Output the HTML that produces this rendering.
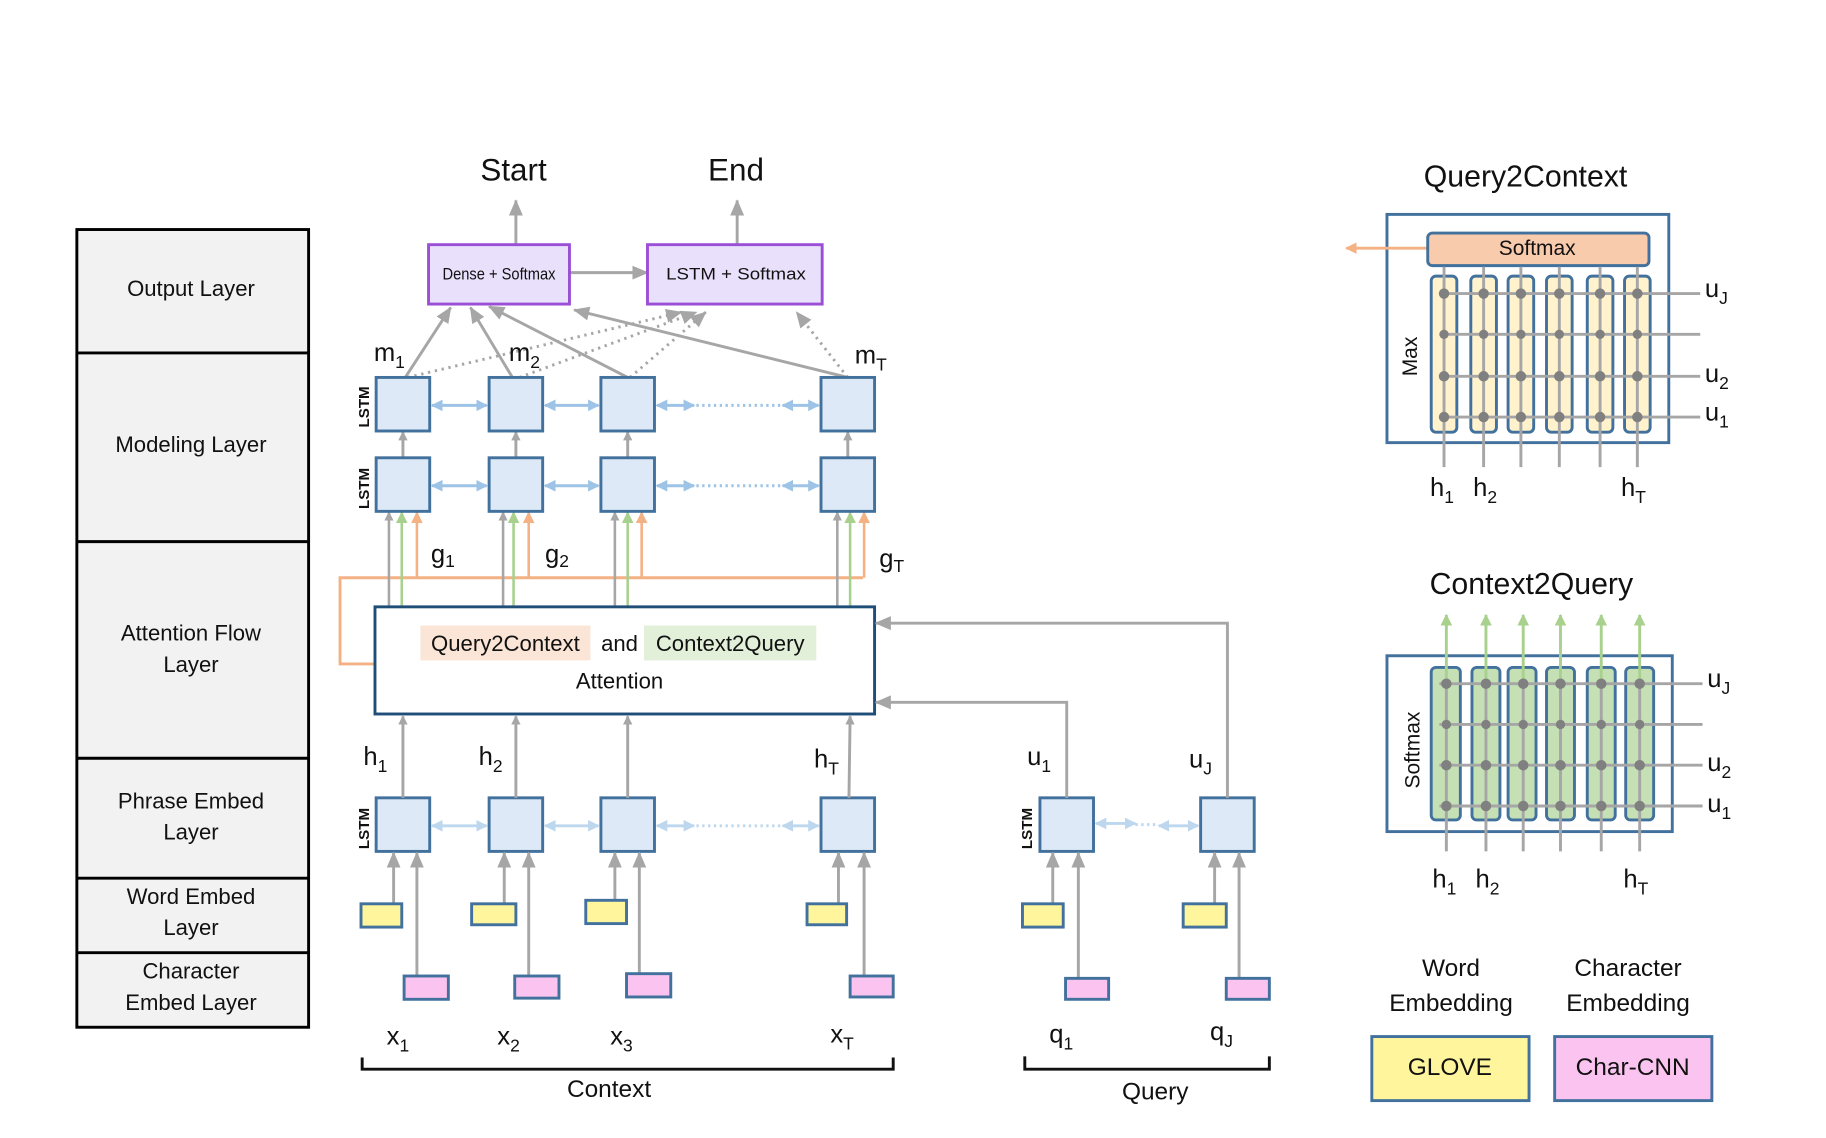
<!DOCTYPE html>
<html><head><meta charset="utf-8"><style>
html,body{margin:0;padding:0;background:#fff}
svg{display:block}
text{font-family:"Liberation Sans",sans-serif;fill:#111}
</style></head><body>
<svg width="1826" height="1138" viewBox="0 0 1568 977" xmlns="http://www.w3.org/2000/svg">
<defs>
<marker id="ag" markerWidth="8" markerHeight="8" refX="7" refY="4" orient="auto" markerUnits="userSpaceOnUse"><path d="M0,0 L8,4 L0,8 z" fill="#a6a6a6"/></marker>
<marker id="agL" markerWidth="14" markerHeight="12" refX="13" refY="6" orient="auto" markerUnits="userSpaceOnUse"><path d="M0,0 L14,6 L0,12 z" fill="#a6a6a6"/></marker>
<marker id="agr" markerWidth="10" markerHeight="10" refX="9" refY="5" orient="auto" markerUnits="userSpaceOnUse"><path d="M0,0 L10,5 L0,10 z" fill="#a9d18e"/></marker>
<marker id="aor" markerWidth="10" markerHeight="10" refX="9" refY="5" orient="auto" markerUnits="userSpaceOnUse"><path d="M0,0 L10,5 L0,10 z" fill="#f4b183"/></marker>
<marker id="ab" markerWidth="10" markerHeight="10" refX="9" refY="5" orient="auto-start-reverse" markerUnits="userSpaceOnUse"><path d="M0,0 L10,5 L0,10 z" fill="#9dc3e6"/></marker>
<marker id="ab2" markerWidth="10" markerHeight="10" refX="9" refY="5" orient="auto-start-reverse" markerUnits="userSpaceOnUse"><path d="M0,0 L10,5 L0,10 z" fill="#bdd7ee"/></marker>
</defs>

<g stroke="#000" stroke-width="2.5" fill="#f2f2f2">
<rect x="66" y="197" width="199" height="685"/>
<line x1="66" y1="303" x2="265" y2="303"/><line x1="66" y1="465" x2="265" y2="465"/>
<line x1="66" y1="651" x2="265" y2="651"/><line x1="66" y1="754" x2="265" y2="754"/>
<line x1="66" y1="818" x2="265" y2="818"/>
</g>
<g font-size="19" text-anchor="middle">
<text x="164" y="254">Output  Layer</text>
<text x="164" y="388">Modeling Layer</text>
<text x="164" y="550">Attention  Flow</text><text x="164" y="577">Layer</text>
<text x="164" y="694">Phrase Embed</text><text x="164" y="721">Layer</text>
<text x="164" y="776">Word Embed</text><text x="164" y="803">Layer</text>
<text x="164" y="840">Character</text><text x="164" y="867">Embed Layer</text>
</g>

<text x="441" y="155" font-size="27" text-anchor="middle">Start</text>
<text x="632" y="155" font-size="27" text-anchor="middle">End</text>
<g stroke="#a6a6a6" stroke-width="2.5">
<line x1="443" y1="210" x2="443" y2="172" marker-end="url(#agL)"/>
<line x1="633" y1="210" x2="633" y2="172" marker-end="url(#agL)"/>
<line x1="489" y1="234" x2="556" y2="234" marker-end="url(#agL)"/>
</g>
<g stroke="#9b4fd6" stroke-width="2.5" fill="#e9e1fb">
<rect x="368" y="210" width="121" height="51"/><rect x="556" y="210" width="150" height="51"/>
</g>
<text x="380" y="240" font-size="14" textLength="97" lengthAdjust="spacingAndGlyphs">Dense  + Softmax</text>
<text x="572" y="240" font-size="14" textLength="120" lengthAdjust="spacingAndGlyphs">LSTM + Softmax</text>

<g stroke="#a6a6a6" stroke-width="2.5" fill="none">
<line x1="348" y1="324" x2="387" y2="264" marker-end="url(#agL)"/>
<line x1="440" y1="324" x2="404" y2="264" marker-end="url(#agL)"/>
<line x1="539" y1="324" x2="420" y2="263" marker-end="url(#agL)"/>
<line x1="728" y1="324" x2="493" y2="266" marker-end="url(#agL)"/>
</g>
<g stroke="#a6a6a6" stroke-width="2.5" stroke-dasharray="2,4" fill="none">
<line x1="350" y1="324" x2="585" y2="268" marker-end="url(#agL)"/>
<line x1="446" y1="324" x2="598" y2="268" marker-end="url(#agL)"/>
<line x1="541" y1="324" x2="606" y2="268" marker-end="url(#agL)"/>
<line x1="728" y1="324" x2="684" y2="268" marker-end="url(#agL)"/>
</g>
<g font-size="22">
<text x="321" y="310">m<tspan font-size="15" dy="6">1</tspan></text>
<text x="437" y="310">m<tspan font-size="15" dy="6">2</tspan></text>
<text x="734" y="312">m<tspan font-size="15" dy="6">T</tspan></text>
<text x="370" y="483">g<tspan font-size="15" dy="4">1</tspan></text>
<text x="468" y="483">g<tspan font-size="15" dy="4">2</tspan></text>
<text x="755" y="487">g<tspan font-size="15" dy="4">T</tspan></text>
<text x="312" y="657">h<tspan font-size="15" dy="6">1</tspan></text>
<text x="411" y="657">h<tspan font-size="15" dy="6">2</tspan></text>
<text x="699" y="659">h<tspan font-size="15" dy="6">T</tspan></text>
<text x="882" y="657">u<tspan font-size="15" dy="6">1</tspan></text>
<text x="1021" y="659">u<tspan font-size="15" dy="6">J</tspan></text>
<text x="332" y="897">x<tspan font-size="15" dy="6">1</tspan></text>
<text x="427" y="897">x<tspan font-size="15" dy="6">2</tspan></text>
<text x="524" y="897">x<tspan font-size="15" dy="6">3</tspan></text>
<text x="713" y="895">x<tspan font-size="15" dy="6">T</tspan></text>
<text x="901" y="895">q<tspan font-size="15" dy="6">1</tspan></text>
<text x="1039" y="893">q<tspan font-size="15" dy="6">J</tspan></text>
</g>

<g stroke="#9dc3e6" stroke-width="2.5">
<line x1="371" y1="348" x2="418" y2="348" marker-start="url(#ab)" marker-end="url(#ab)"/>
<line x1="468" y1="348" x2="514" y2="348" marker-start="url(#ab)" marker-end="url(#ab)"/>
<line x1="564" y1="348" x2="596" y2="348" marker-start="url(#ab)" marker-end="url(#ab)"/>
<line x1="672" y1="348" x2="703" y2="348" marker-start="url(#ab)" marker-end="url(#ab)"/>
<line x1="598" y1="348" x2="670" y2="348" stroke-dasharray="2,3"/>
<line x1="371" y1="417" x2="418" y2="417" marker-start="url(#ab)" marker-end="url(#ab)"/>
<line x1="468" y1="417" x2="514" y2="417" marker-start="url(#ab)" marker-end="url(#ab)"/>
<line x1="564" y1="417" x2="596" y2="417" marker-start="url(#ab)" marker-end="url(#ab)"/>
<line x1="672" y1="417" x2="703" y2="417" marker-start="url(#ab)" marker-end="url(#ab)"/>
<line x1="598" y1="417" x2="670" y2="417" stroke-dasharray="2,3"/>
</g>
<g stroke="#bdd7ee" stroke-width="2.5">
<line x1="371" y1="709" x2="418" y2="709" marker-start="url(#ab2)" marker-end="url(#ab2)"/>
<line x1="468" y1="709" x2="514" y2="709" marker-start="url(#ab2)" marker-end="url(#ab2)"/>
<line x1="564" y1="709" x2="596" y2="709" marker-start="url(#ab2)" marker-end="url(#ab2)"/>
<line x1="672" y1="709" x2="703" y2="709" marker-start="url(#ab2)" marker-end="url(#ab2)"/>
<line x1="598" y1="709" x2="670" y2="709" stroke-dasharray="2,3"/>
<line x1="941" y1="707" x2="975" y2="707" marker-start="url(#ab2)" marker-end="url(#ab2)"/>
<line x1="995" y1="709" x2="1029" y2="709" marker-start="url(#ab2)" marker-end="url(#ab2)"/>
<line x1="975" y1="708" x2="995" y2="708" stroke-dasharray="2,3"/>
</g>

<g stroke="#a6a6a6" stroke-width="2.5">
<line x1="346" y1="393" x2="346" y2="371" marker-end="url(#ag)"/>
<line x1="443" y1="393" x2="443" y2="371" marker-end="url(#ag)"/>
<line x1="539" y1="393" x2="539" y2="371" marker-end="url(#ag)"/>
<line x1="728" y1="393" x2="728" y2="371" marker-end="url(#ag)"/>
</g>

<polyline points="741,496 292,496 292,570 322,570" fill="none" stroke="#f4b183" stroke-width="2.5"/>
<g stroke-width="2.2">
<g stroke="#a6a6a6">
<line x1="334" y1="521" x2="334" y2="440" marker-end="url(#ag)"/><line x1="432" y1="521" x2="432" y2="440" marker-end="url(#ag)"/>
<line x1="528" y1="521" x2="528" y2="440" marker-end="url(#ag)"/><line x1="719" y1="521" x2="719" y2="440" marker-end="url(#ag)"/>
</g>
<g stroke="#a9d18e">
<line x1="345" y1="521" x2="345" y2="440" marker-end="url(#agr)"/><line x1="441" y1="521" x2="441" y2="440" marker-end="url(#agr)"/>
<line x1="539" y1="521" x2="539" y2="440" marker-end="url(#agr)"/><line x1="730" y1="521" x2="730" y2="440" marker-end="url(#agr)"/>
</g>
<g stroke="#f4b183">
<line x1="358" y1="496" x2="358" y2="440" marker-end="url(#aor)"/><line x1="454" y1="496" x2="454" y2="440" marker-end="url(#aor)"/>
<line x1="551" y1="496" x2="551" y2="440" marker-end="url(#aor)"/><line x1="742" y1="496" x2="742" y2="440" marker-end="url(#aor)"/>
</g>
</g>

<g fill="#dde9f6" stroke="#41719c" stroke-width="2.5">
<rect x="323" y="324" width="46" height="46"/><rect x="420" y="324" width="46" height="46"/><rect x="516" y="324" width="46" height="46"/><rect x="705" y="324" width="46" height="46"/>
<rect x="323" y="393" width="46" height="46"/><rect x="420" y="393" width="46" height="46"/><rect x="516" y="393" width="46" height="46"/><rect x="705" y="393" width="46" height="46"/>
<rect x="323" y="685" width="46" height="46"/><rect x="420" y="685" width="46" height="46"/><rect x="516" y="685" width="46" height="46"/><rect x="705" y="685" width="46" height="46"/>
<rect x="893" y="685" width="46" height="46"/><rect x="1031" y="685" width="46" height="46"/>
</g>
<g font-size="13" font-weight="bold">
<text transform="translate(317,367) rotate(-90)" fill="#2e75b6">LSTM</text>
<text transform="translate(317,437) rotate(-90)" fill="#2e75b6">LSTM</text>
<text transform="translate(317,729) rotate(-90)" fill="#2e75b6">LSTM</text>
<text transform="translate(886,729) rotate(-90)" fill="#2e75b6">LSTM</text>
</g>

<rect x="322" y="521" width="429" height="92" fill="#fff" stroke="#1f4e79" stroke-width="2.5"/>
<rect x="361" y="537" width="146" height="30" fill="#fbe5d6"/>
<rect x="553" y="537" width="148" height="30" fill="#e2f0d9"/>
<g font-size="19" text-anchor="middle">
<text x="434" y="559">Query2Context</text><text x="532" y="559">and</text><text x="627" y="559">Context2Query</text>
<text x="532" y="591">Attention</text>
</g>
<g stroke="#a6a6a6" stroke-width="2.5" fill="none">
<polyline points="916,685 916,603 752,603" marker-end="url(#agL)"/>
<polyline points="1054,685 1054,535 752,535" marker-end="url(#agL)"/>
<line x1="346" y1="685" x2="346" y2="615" marker-end="url(#ag)"/>
<line x1="443" y1="685" x2="443" y2="615" marker-end="url(#ag)"/>
<line x1="539" y1="685" x2="539" y2="615" marker-end="url(#ag)"/>
<line x1="729" y1="685" x2="730" y2="615" marker-end="url(#ag)"/>
<line x1="338" y1="776" x2="338" y2="732" marker-end="url(#agL)"/><line x1="358" y1="838" x2="358" y2="732" marker-end="url(#agL)"/>
<line x1="433" y1="776" x2="433" y2="732" marker-end="url(#agL)"/><line x1="454" y1="838" x2="454" y2="732" marker-end="url(#agL)"/>
<line x1="528" y1="773" x2="528" y2="732" marker-end="url(#agL)"/><line x1="549" y1="836" x2="549" y2="732" marker-end="url(#agL)"/>
<line x1="720" y1="776" x2="720" y2="732" marker-end="url(#agL)"/><line x1="742" y1="838" x2="742" y2="732" marker-end="url(#agL)"/>
<line x1="904" y1="776" x2="904" y2="732" marker-end="url(#agL)"/><line x1="926" y1="840" x2="926" y2="732" marker-end="url(#agL)"/>
<line x1="1043" y1="776" x2="1043" y2="732" marker-end="url(#agL)"/><line x1="1064" y1="840" x2="1064" y2="732" marker-end="url(#agL)"/>
</g>
<g fill="#fff59d" stroke="#41719c" stroke-width="2.5">
<rect x="310" y="776" width="35" height="20"/><rect x="405" y="776" width="38" height="18"/><rect x="503" y="773" width="35" height="20"/><rect x="693" y="776" width="34" height="18"/>
<rect x="878" y="776" width="35" height="20"/><rect x="1016" y="776" width="37" height="20"/>
</g>
<g fill="#fbc4f0" stroke="#41719c" stroke-width="2.5">
<rect x="347" y="838" width="38" height="20"/><rect x="442" y="838" width="38" height="19"/><rect x="538" y="836" width="38" height="20"/><rect x="730" y="838" width="37" height="18"/>
<rect x="915" y="840" width="37" height="18"/><rect x="1053" y="840" width="37" height="18"/>
</g>

<g stroke="#111" stroke-width="2.5" fill="none">
<polyline points="311,908 311,918 767,918 767,908"/>
<polyline points="880,907 880,918 1090,918 1090,907"/>
</g>
<text x="523" y="942" font-size="21" text-anchor="middle">Context</text>
<text x="992" y="944" font-size="21" text-anchor="middle">Query</text>

<text x="1310" y="160" font-size="26" text-anchor="middle">Query2Context</text>
<rect x="1191" y="184" width="242" height="196" fill="#fff" stroke="#41719c" stroke-width="2.5"/>
<line x1="1226" y1="213" x2="1156" y2="213" stroke="#f4b183" stroke-width="2.5" marker-end="url(#aor)"/>
<rect x="1226" y="200" width="190" height="28" rx="4" fill="#f8cbad" stroke="#41719c" stroke-width="2.5"/>
<text x="1320" y="219" font-size="18" text-anchor="middle" fill="#444">Softmax</text>
<g fill="#fff2cc" stroke="#41719c" stroke-width="2.5">
<rect x="1229" y="237" width="22" height="134" rx="4"/><rect x="1263" y="237" width="22" height="134" rx="4"/><rect x="1295" y="237" width="22" height="134" rx="4"/><rect x="1328" y="237" width="22" height="134" rx="4"/><rect x="1363" y="237" width="22" height="134" rx="4"/><rect x="1395" y="237" width="22" height="134" rx="4"/>
</g>
<g stroke="#a6a6a6" stroke-width="2.5">
<line x1="1240" y1="229" x2="1240" y2="401"/><line x1="1274" y1="229" x2="1274" y2="401"/><line x1="1306" y1="229" x2="1306" y2="401"/><line x1="1339" y1="229" x2="1339" y2="401"/><line x1="1374" y1="229" x2="1374" y2="401"/><line x1="1406" y1="229" x2="1406" y2="401"/>
<line x1="1236" y1="252" x2="1460" y2="252"/><line x1="1236" y1="287" x2="1460" y2="287"/><line x1="1236" y1="323" x2="1460" y2="323"/><line x1="1236" y1="358" x2="1460" y2="358"/>
</g>
<g fill="#808080">
<circle cx="1240" cy="252" r="4.5"/><circle cx="1274" cy="252" r="4.5"/><circle cx="1306" cy="252" r="4.5"/><circle cx="1339" cy="252" r="4.5"/><circle cx="1374" cy="252" r="4.5"/><circle cx="1406" cy="252" r="4.5"/>
<circle cx="1240" cy="287" r="4"/><circle cx="1274" cy="287" r="4"/><circle cx="1306" cy="287" r="4"/><circle cx="1339" cy="287" r="4"/><circle cx="1374" cy="287" r="4"/><circle cx="1406" cy="287" r="4"/>
<circle cx="1240" cy="323" r="4.5"/><circle cx="1274" cy="323" r="4.5"/><circle cx="1306" cy="323" r="4.5"/><circle cx="1339" cy="323" r="4.5"/><circle cx="1374" cy="323" r="4.5"/><circle cx="1406" cy="323" r="4.5"/>
<circle cx="1240" cy="358" r="4.5"/><circle cx="1274" cy="358" r="4.5"/><circle cx="1306" cy="358" r="4.5"/><circle cx="1339" cy="358" r="4.5"/><circle cx="1374" cy="358" r="4.5"/><circle cx="1406" cy="358" r="4.5"/>
</g>
<text transform="translate(1217,323) rotate(-90)" font-size="18" fill="#555">Max</text>
<g font-size="22">
<text x="1464" y="255">u<tspan font-size="15" dy="6">J</tspan></text>
<text x="1464" y="328">u<tspan font-size="15" dy="6">2</tspan></text>
<text x="1464" y="361">u<tspan font-size="15" dy="6">1</tspan></text>
<text x="1228" y="426">h<tspan font-size="15" dy="6">1</tspan></text>
<text x="1265" y="426">h<tspan font-size="15" dy="6">2</tspan></text>
<text x="1392" y="426">h<tspan font-size="15" dy="6">T</tspan></text>
</g>

<text x="1315" y="510" font-size="26" text-anchor="middle">Context2Query</text>
<rect x="1191" y="563" width="245" height="151" fill="#fff" stroke="#41719c" stroke-width="2.5"/>
<g fill="#c5e0b4" stroke="#41719c" stroke-width="2.5">
<rect x="1229" y="573" width="25" height="131" rx="4"/><rect x="1264" y="573" width="24" height="131" rx="4"/><rect x="1295" y="573" width="24" height="131" rx="4"/><rect x="1328" y="573" width="24" height="131" rx="4"/><rect x="1363" y="573" width="24" height="131" rx="4"/><rect x="1396" y="573" width="24" height="131" rx="4"/>
</g>
<g stroke="#a9d18e" stroke-width="2.5">
<line x1="1242" y1="590" x2="1242" y2="528" marker-end="url(#agr)"/><line x1="1276" y1="590" x2="1276" y2="528" marker-end="url(#agr)"/><line x1="1308" y1="590" x2="1308" y2="528" marker-end="url(#agr)"/><line x1="1340" y1="590" x2="1340" y2="528" marker-end="url(#agr)"/><line x1="1375" y1="590" x2="1375" y2="528" marker-end="url(#agr)"/><line x1="1408" y1="590" x2="1408" y2="528" marker-end="url(#agr)"/>
</g>
<g stroke="#a6a6a6" stroke-width="2.5">
<line x1="1242" y1="590" x2="1242" y2="731"/><line x1="1276" y1="590" x2="1276" y2="731"/><line x1="1308" y1="590" x2="1308" y2="731"/><line x1="1340" y1="590" x2="1340" y2="731"/><line x1="1375" y1="590" x2="1375" y2="731"/><line x1="1408" y1="590" x2="1408" y2="731"/>
<line x1="1236" y1="587" x2="1462" y2="587"/><line x1="1236" y1="622" x2="1462" y2="622"/><line x1="1236" y1="657" x2="1462" y2="657"/><line x1="1236" y1="692" x2="1462" y2="692"/>
</g>
<g fill="#808080">
<circle cx="1242" cy="587" r="4.5"/><circle cx="1276" cy="587" r="4.5"/><circle cx="1308" cy="587" r="4.5"/><circle cx="1340" cy="587" r="4.5"/><circle cx="1375" cy="587" r="4.5"/><circle cx="1408" cy="587" r="4.5"/>
<circle cx="1242" cy="622" r="4"/><circle cx="1276" cy="622" r="4"/><circle cx="1308" cy="622" r="4"/><circle cx="1340" cy="622" r="4"/><circle cx="1375" cy="622" r="4"/><circle cx="1408" cy="622" r="4"/>
<circle cx="1242" cy="657" r="4.5"/><circle cx="1276" cy="657" r="4.5"/><circle cx="1308" cy="657" r="4.5"/><circle cx="1340" cy="657" r="4.5"/><circle cx="1375" cy="657" r="4.5"/><circle cx="1408" cy="657" r="4.5"/>
<circle cx="1242" cy="692" r="4.5"/><circle cx="1276" cy="692" r="4.5"/><circle cx="1308" cy="692" r="4.5"/><circle cx="1340" cy="692" r="4.5"/><circle cx="1375" cy="692" r="4.5"/><circle cx="1408" cy="692" r="4.5"/>
</g>
<text transform="translate(1219,677) rotate(-90)" font-size="18" fill="#548235">Softmax</text>
<g font-size="22">
<text x="1466" y="590">u<tspan font-size="15" dy="6">J</tspan></text>
<text x="1466" y="662">u<tspan font-size="15" dy="6">2</tspan></text>
<text x="1466" y="697">u<tspan font-size="15" dy="6">1</tspan></text>
<text x="1230" y="762">h<tspan font-size="15" dy="6">1</tspan></text>
<text x="1267" y="762">h<tspan font-size="15" dy="6">2</tspan></text>
<text x="1394" y="762">h<tspan font-size="15" dy="6">T</tspan></text>
</g>

<g font-size="21" text-anchor="middle">
<text x="1246" y="838">Word</text><text x="1246" y="868">Embedding</text>
<text x="1398" y="838">Character</text><text x="1398" y="868">Embedding</text>
</g>
<rect x="1178" y="890" width="135" height="55" fill="#fff59d" stroke="#41719c" stroke-width="2.5"/>
<rect x="1335" y="890" width="135" height="55" fill="#fbc4f0" stroke="#41719c" stroke-width="2.5"/>
<text x="1245" y="923" font-size="21" text-anchor="middle">GLOVE</text>
<text x="1402" y="923" font-size="21" text-anchor="middle">Char-CNN</text>
</svg>
</body></html>
